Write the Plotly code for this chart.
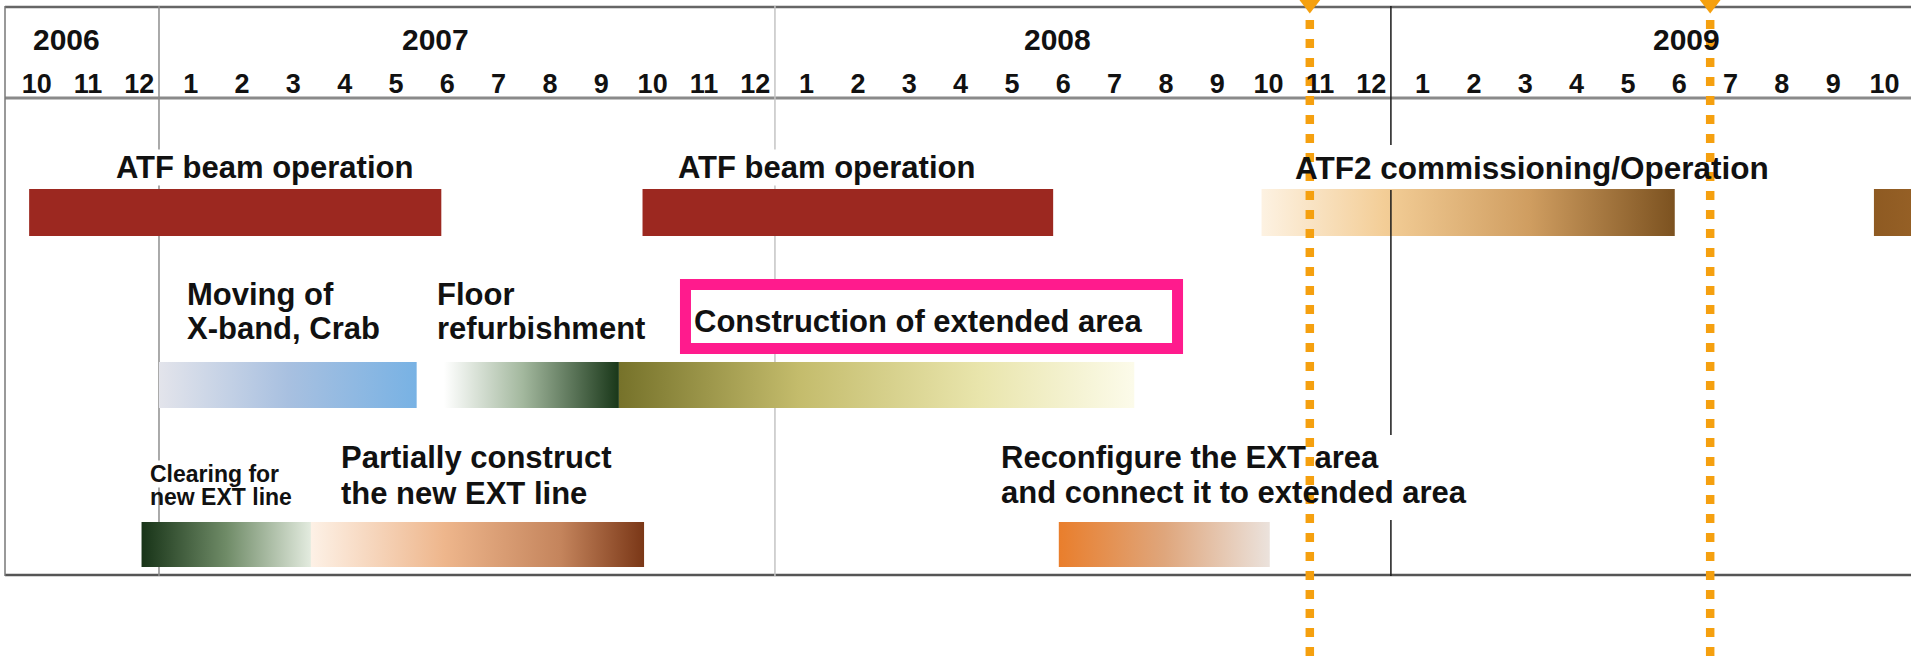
import plotly.graph_objects as go

# ---------------- data ----------------
# Time axis in months counted from 1 Oct 2006 (0 = start of Oct 2006, 3 = start of Jan 2007 ...)
month_labels = ["10", "11", "12",
                "1", "2", "3", "4", "5", "6", "7", "8", "9", "10", "11", "12",
                "1", "2", "3", "4", "5", "6", "7", "8", "9", "10", "11", "12",
                "1", "2", "3", "4", "5", "6", "7", "8", "9", "10"]
year_labels = ["2006", "2007", "2008", "2009"]
year_boundaries = [3, 15, 27]          # Jan 2007, Jan 2008, Jan 2009

task_names = ["ATF beam operation", "ATF beam operation", "ATF2 commissioning/Operation",
              "ATF2 commissioning/Operation (cont.)",
              "Moving of X-band, Crab", "Floor refurbishment", "Construction of extended area",
              "Clearing for new EXT line", "Partially construct the new EXT line",
              "Reconfigure the EXT area and connect it to extended area"]
task_start = [0.47, 12.42, 24.48, 36.41, 3.00, 8.55, 11.96, 2.66, 5.96, 20.53]
task_end = [8.50, 20.42, 32.53, 38.50, 8.02, 11.96, 22.00, 5.96, 12.45, 24.64]
task_row = [0, 0, 0, 0, 1, 1, 1, 2, 2, 2]

milestones = [25.42, 33.22]            # orange dashed markers (mid-Nov 2008, early Jul 2009)

# ---------------- layout / style ----------------
W, H = 1911, 663
MONTH_PX = 51.33
X0_PX = 5
x_lo = -X0_PX / MONTH_PX
x_hi = (W - X0_PX) / MONTH_PX

ROW_TOP = [189, 362, 522]
ROW_BOT = [236, 408, 567]

task_fill = [
    "#9C2820",
    "#9C2820",
    [[0, "#FDF2E2"], [0.3, "#F3CD96"], [0.65, "#CF9D60"], [1, "#7C5220"]],
    [[0, "#8E5A22"], [1, "#A26A2C"]],
    [[0, "#E3E4EB"], [0.5, "#A8C0E0"], [1, "#78B2E4"]],
    [[0, "#FFFFFF"], [0.45, "#A3B89E"], [1, "#193719"]],
    [[0, "#76722A"], [0.35, "#C4BC6C"], [0.7, "#E9E5AC"], [1, "#FCFBEA"]],
    [[0, "#183418"], [0.5, "#6F8B67"], [1, "#E3EBDF"]],
    [[0, "#FDF1E6"], [0.4, "#EEB68C"], [0.75, "#C4845C"], [1, "#7A3717"]],
    [[0, "#E97E2C"], [0.5, "#DFA67C"], [1, "#EBE2DC"]],
]

FONT = "Liberation Sans, Arial, sans-serif"

fig = go.Figure()

# bars
for name, s, e, r, fill in zip(task_names, task_start, task_end, task_row, task_fill):
    y0, y1 = ROW_TOP[r], ROW_BOT[r]
    tr = dict(x=[s, e, e, s, s], y=[y0, y0, y1, y1, y0], mode="lines", fill="toself",
              line=dict(width=0), hoverinfo="text", text=name, showlegend=False)
    if isinstance(fill, str):
        tr["fillcolor"] = fill
    else:
        tr["fillgradient"] = dict(type="horizontal", colorscale=fill)
    fig.add_trace(go.Scatter(**tr))

# milestone dashed lines + triangles
ORANGE = "#F5A00F"
for m in milestones:
    fig.add_trace(go.Scatter(x=[m, m], y=[20, 662], mode="lines",
                             line=dict(color=ORANGE, width=8.5, dash="9px,10px"),
                             hoverinfo="skip", showlegend=False))
fig.add_trace(go.Scatter(x=milestones, y=[2.5] * len(milestones), mode="markers",
                         marker=dict(symbol="triangle-down", size=22, color=ORANGE),
                         hoverinfo="skip", showlegend=False))

shapes = []
# frame
shapes.append(dict(type="line", xref="x", yref="y", x0=0, x1=x_hi + 1, y0=7, y1=7,
                   line=dict(color="#666666", width=2.5), layer="below"))
shapes.append(dict(type="line", xref="x", yref="y", x0=0, x1=x_hi + 1, y0=98, y1=98,
                   line=dict(color="#8A8A8A", width=3), layer="below"))
shapes.append(dict(type="line", xref="x", yref="y", x0=0, x1=x_hi + 1, y0=575, y1=575,
                   line=dict(color="#555555", width=2.5), layer="below"))
shapes.append(dict(type="line", xref="x", yref="y", x0=0, x1=0, y0=6, y1=576,
                   line=dict(color="#777777", width=1.5), layer="below"))
# year separators
shapes.append(dict(type="line", xref="x", yref="y", x0=year_boundaries[0], x1=year_boundaries[0],
                   y0=6, y1=576, line=dict(color="#8E8E8E", width=1.5), layer="below"))
shapes.append(dict(type="line", xref="x", yref="y", x0=year_boundaries[1], x1=year_boundaries[1],
                   y0=6, y1=576, line=dict(color="#C4C4C4", width=1.5), layer="below"))
for ya, yb in [(6, 145), (190, 435), (520, 576)]:
    shapes.append(dict(type="line", xref="x", yref="y", x0=year_boundaries[2], x1=year_boundaries[2],
                       y0=ya, y1=yb, line=dict(color="#1A1A1A", width=1.5), layer="above"))
# highlight box
shapes.append(dict(type="rect", xref="x", yref="y", x0=13.257, x1=22.843, y0=284.5, y1=348.5,
                   line=dict(color="#FF1B8D", width=11), fillcolor="white", layer="above"))

annotations = []
# year labels
year_label_x = [1.19, 8.38, 20.51, 32.76]
for t, xm in zip(year_labels, year_label_x):
    annotations.append(dict(x=xm, y=39, xref="x", yref="y", text=t, showarrow=False,
                            xanchor="center", yanchor="middle",
                            font=dict(family=FONT, size=30, color="#111111", weight="bold")))

# task labels (lines)
label_lines = ["ATF beam operation", "ATF beam operation", "ATF2 commissioning/Operation",
               "Moving of", "X-band, Crab", "Floor", "refurbishment",
               "Construction of extended area",
               "Clearing for", "new EXT line", "Partially construct", "the new EXT line",
               "Reconfigure the EXT area", "and connect it to extended area"]
label_x = [2.14, 13.10, 25.11, 3.53, 3.53, 8.40, 8.40, 13.40, 2.80, 2.80, 6.53, 6.53, 19.39, 19.39]
label_y = [167.5, 167.5, 167.5, 294, 328.5, 294, 328.5, 321, 473.5, 497, 457, 493, 457, 492]
label_size = [31, 31, 31.5, 31, 31, 31, 31, 31, 23, 23, 31, 31, 31, 31]
label_bg = [True, True, False, False, False, False, False, False, True, False, False, False, False, False]
for t, xm, yp, fs, bg in zip(label_lines, label_x, label_y, label_size, label_bg):
    annotations.append(dict(x=xm, y=yp, xref="x", yref="y", text=t, showarrow=False,
                            xanchor="left", yanchor="middle", borderpad=0,
                            bgcolor="white" if bg else "rgba(0,0,0,0)",
                            font=dict(family=FONT, size=fs, color="#111111", weight="bold")))

fig.update_layout(
    width=W, height=H, autosize=False,
    margin=dict(l=0, r=0, t=0, b=0),
    paper_bgcolor="white", plot_bgcolor="white",
    showlegend=False,
    shapes=shapes, annotations=annotations,
    xaxis=dict(range=[x_lo, x_hi], showgrid=False, zeroline=False, showline=False,
               tickmode="array",
               tickvals=[i + 0.5 for i in range(len(month_labels))],
               ticktext=month_labels, ticks="", side="top", anchor="free",
               position=1 - 98 / H, ticklabelshift=6,
               tickfont=dict(family=FONT, size=27, color="#111111", weight="bold"),
               fixedrange=True),
    yaxis=dict(range=[H, 0], visible=False, fixedrange=True),
)

fig.write_html("out.html", config={"displayModeBar": False},
               post_script="document.body.style.margin='0';")
